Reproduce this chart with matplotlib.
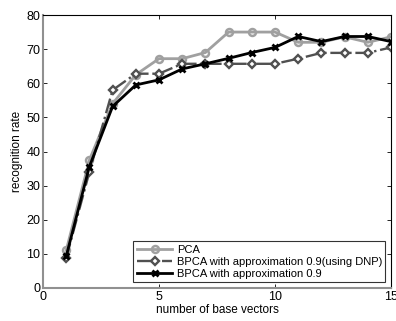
import matplotlib.pyplot as plt

n_vectors = list(range(1, 16))
pca = [11, 37.5, 54, 62.5, 67.2, 67.2, 69, 75, 75, 75, 72, 72, 73.6, 72, 73.6]
bpca_dnp = [8.8, 34, 58, 62.8, 62.8, 65.7, 65.7, 65.7, 65.7, 65.7, 67.2, 68.9, 68.9, 68.9, 70.5]
bpca = [9.3, 35.6, 53.2, 59.5, 61, 64.2, 65.7, 67.3, 69, 70.5, 73.7, 72.2, 73.7, 73.7, 72.2]

plt.rcParams['font.family'] = ['Liberation Sans', 'DejaVu Sans']
fig = plt.figure(figsize=(3.96, 3.21), dpi=100)
ax = fig.add_axes([43/396, 1 - 288/321, 348/396, 273/321])

ax.plot(n_vectors, pca, color='#a0a0a0', linewidth=2.0, marker='o', markersize=5,
        markerfacecolor='none', markeredgewidth=1.8, label='PCA')
ax.plot(n_vectors, bpca_dnp, color='#505050', linewidth=1.7, linestyle='-.', marker='D',
        markersize=4.5, markerfacecolor='white', markeredgewidth=1.7,
        label='BPCA with approximation 0.9(using DNP)')
ax.plot(n_vectors, bpca, color='black', linewidth=2.0, marker='x', markersize=4.5,
        markeredgewidth=2, label='BPCA with approximation 0.9')

ax.set_xlim(0, 15)
ax.set_ylim(0, 80)
ax.set_xticks([0, 5, 10, 15])
ax.set_yticks(range(0, 81, 10))
ax.tick_params(direction='in', top=True, right=True, labelsize=9, length=3, width=0.6, pad=2)
ax.set_xlabel('number of base vectors', fontsize=8.5, labelpad=1)
ax.set_ylabel('recognition rate', fontsize=8.5, labelpad=2)
for s in ['left', 'bottom']:
    ax.spines[s].set_color('#909090')
    ax.spines[s].set_linewidth(1.5)
for s in ['top', 'right']:
    ax.spines[s].set_color('black')
    ax.spines[s].set_linewidth(0.8)

leg = ax.legend(loc='lower right', fontsize=8, frameon=True, fancybox=False,
                edgecolor='black', borderpad=0.3, labelspacing=0.2,
                handlelength=3.2, handletextpad=0.4, borderaxespad=0.5)
leg.get_frame().set_linewidth(0.8)

fig.savefig('out.png', dpi=100)
